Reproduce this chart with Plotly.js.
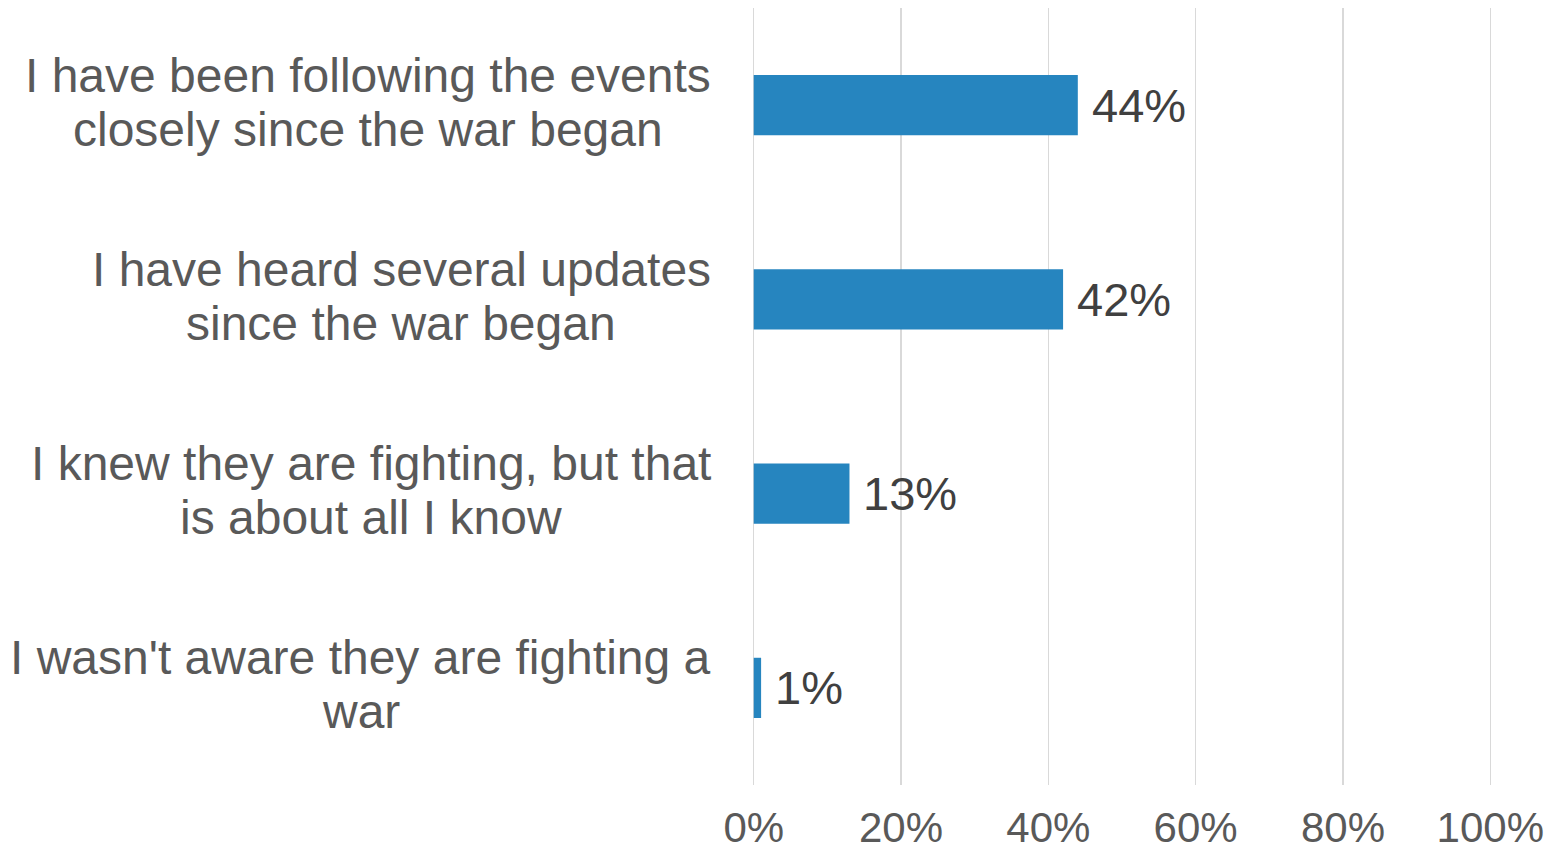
<!DOCTYPE html>
<html>
<head>
<meta charset="utf-8">
<script src="https://cdn.plot.ly/plotly-3.0.1.min.js"></script>
<style>html,body{margin:0;padding:0;background:#fff;}#chart{width:1553px;height:852px;}</style>
</head>
<body>
<div id="chart"></div>
<script>
const categories = [
  "I have been following the events<br>closely since the war began",
  "I have heard several updates<br>since the war began",
  "I knew they are fighting, but that<br>is about all I know",
  "I wasn't aware they are fighting a<br>war"
];
const values = [44, 42, 13, 1];
const valueLabels = ["44%", "42%", "13%", "1%"];
const tickValues = [0, 20, 40, 60, 80, 100];
const tickLabels = ["0%", "20%", "40%", "60%", "80%", "100%"];

const FONT = "Liberation Sans, Arial, sans-serif";
const CAT_SIZE = 48;
const ctx = document.createElement("canvas").getContext("2d");
ctx.font = CAT_SIZE + "px 'Liberation Sans', Arial, sans-serif";

const annotations = [];
categories.forEach((c, i) => {
  const lines = c.split("<br>");
  const n = lines.length;
  const maxW = Math.max(...lines.map(l => ctx.measureText(l).width));
  const center = -(43 - 15) - maxW / 2;
  lines.forEach((ln, j) => {
    annotations.push({
      xref: "paper", yref: "y", x: 0, y: c,
      xanchor: "center", yanchor: "middle",
      xshift: center, yshift: ((n - 1) / 2 - j) * 54 + 3,
      text: ln, showarrow: false, align: "center",
      font: {family: FONT, size: CAT_SIZE, color: "#595959"}
    });
  });
  annotations.push({
    xref: "x", yref: "y", x: values[i], y: c,
    xanchor: "left", yanchor: "middle", xshift: 12, yshift: 0,
    text: valueLabels[i], showarrow: false,
    font: {family: FONT, size: 47, color: "#404040"}
  });
});

const trace = {
  type: "bar", orientation: "h",
  x: values, y: categories,
  marker: {color: "#2685BF"},
  width: 0.31,
  hoverinfo: "none"
};

const layout = {
  width: 1553, height: 852,
  margin: {l: 739, r: 48, t: 8, b: 67},
  paper_bgcolor: "#ffffff", plot_bgcolor: "#ffffff",
  showlegend: false,
  xaxis: {
    range: [-2, 102], tickvals: tickValues, ticktext: tickLabels,
    showgrid: true, gridcolor: "#D9D9D9", gridwidth: 1.5,
    zeroline: false, showline: false, ticks: "",
    ticklabelstandoff: 14,
    tickfont: {family: FONT, size: 42, color: "#595959"},
    fixedrange: true
  },
  yaxis: {
    type: "category", autorange: "reversed",
    showticklabels: false, showgrid: false, zeroline: false, showline: false, ticks: "",
    fixedrange: true
  },
  annotations: annotations
};

Plotly.newPlot("chart", [trace], layout, {staticPlot: true, displayModeBar: false});
</script>
</body>
</html>
